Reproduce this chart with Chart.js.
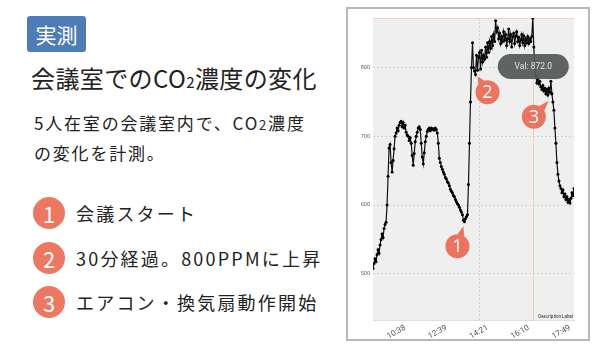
<!DOCTYPE html>
<html><head><meta charset="utf-8">
<script src="https://cdn.jsdelivr.net/npm/chart.js@4"></script>
<style>
html,body{margin:0;padding:0;background:#fff;width:600px;height:351px;overflow:hidden;font-family:'Noto Sans CJK JP',sans-serif;color:#222}
.abs{position:absolute;white-space:nowrap}
#badge{left:27px;top:16px;width:59px;height:36px;background:#4d7cb7;border-radius:3px;color:#fff;font-size:21px;line-height:36px;text-align:center}
#title{left:31px;top:62px;font-size:24px;line-height:32px;letter-spacing:0.4px}
.sub{font-size:15px}
#body{left:34px;top:109px;font-size:17px;line-height:28px;letter-spacing:1.8px}
.item{left:76px;font-size:18px;line-height:24px;letter-spacing:2.2px}
.num{position:absolute;width:32px;height:32px;border-radius:50%;background:#ec7862;color:#fff;font-size:22px;line-height:32px;text-align:center;left:33px}
#frame{position:absolute;left:346px;top:7px;width:244px;height:334px;border:2px solid #b8b8b8;box-sizing:border-box;background:#fff}
#frame canvas{display:block}
</style>
</head>
<body>
<div id="badge" class="abs">実測</div>
<div id="title" class="abs">会議室でのCO<span class="sub">2</span>濃度の変化</div>
<div id="body" class="abs">5人在室の会議室内で、CO<span style="font-size:13px">2</span>濃度<br>の変化を計測。</div>
<div class="num" style="top:197px">1</div>
<div class="abs item" style="top:201px">会議スタート</div>
<div class="num" style="top:242px">2</div>
<div class="abs item" style="top:246px">30分経過。800PPMに上昇</div>
<div class="num" style="top:286px">3</div>
<div class="abs item" style="top:290px">エアコン・換気扇動作開始</div>
<div id="frame"><canvas id="c" width="240" height="330"></canvas></div>
<script>
const timeLabels = ['10:38','12:39','14:21','16:10','17:49'];
const tickIdx = [24,65,106,147,188];
const yTickVals = [500,600,700,800];
const co2 = [
508,515,522,518,528,535,530,542,550,558,553,566,572,575,600,642,683,688,662,648,
665,682,700,705,712,708,716,720,722,714,720,712,716,706,702,700,694,698,690,672,
658,675,692,700,706,712,714,710,690,670,660,676,692,700,707,710,712,708,712,710,
711,709,712,710,705,690,668,662,656,652,648,645,640,638,634,632,628,623,620,618,
614,612,608,605,602,600,597,593,590,586,578,576,580,583,586,630,690,750,800,836,
800,795,790,818,796,815,822,798,825,808,818,812,830,815,836,822,838,828,845,832,
848,838,868,852,858,842,850,835,845,838,852,840,848,832,842,856,838,848,830,845,
850,835,846,852,838,844,832,840,848,836,846,832,842,836,845,835,842,838,845,872,
830,800,788,778,784,776,780,772,768,774,766,770,762,768,760,770,764,780,762,750,
738,712,690,662,645,635,628,624,618,622,612,616,608,612,604,608,603,610,618,614,
624];
const highlightIdx = 159;
const markers = [
  {label:'1', idx:90,  dx:-6,  dy:26,   tx:6,   ty:-20},
  {label:'2', idx:104, dx:10,  dy:22,   tx:-10, ty:-16},
  {label:'3', idx:175, dx:-15, dy:28.5, tx:15,  ty:-16}
];

const bgPlugin = {
  id:'bg',
  beforeDraw(chart){
    const {ctx, chartArea:a} = chart;
    ctx.save(); ctx.fillStyle='#efefef';
    ctx.fillRect(a.left,a.top,a.right-a.left,a.bottom-a.top); ctx.restore();
  },
  beforeDatasetsDraw(chart){
    const {ctx, chartArea:a, scales} = chart;
    const px = scales.x.getPixelForValue(highlightIdx);
    const py = scales.y.getPixelForValue(co2[highlightIdx]);
    ctx.save(); ctx.strokeStyle='#f3cfb8'; ctx.lineWidth=1;
    ctx.beginPath();
    ctx.moveTo(Math.round(px)+0.5,a.top); ctx.lineTo(Math.round(px)+0.5,a.bottom);
    ctx.moveTo(a.left,Math.round(py)+0.5); ctx.lineTo(a.right,Math.round(py)+0.5);
    ctx.stroke(); ctx.restore();
  },
  afterDraw(chart){
    const {ctx, chartArea:a, scales} = chart;
    ctx.save();
    ctx.fillStyle='#333'; ctx.font='4.5px Roboto'; ctx.textAlign='right'; ctx.textBaseline='bottom';
    ctx.fillText('Description Label', a.right-1, a.bottom-1);
    const hx = scales.x.getPixelForValue(highlightIdx);
    const hy = scales.y.getPixelForValue(co2[highlightIdx]);
    const cx = hx+0.5, cy = hy+48.5, w=71, h=25, r=12.5;
    ctx.fillStyle='rgba(82,87,87,0.92)';
    ctx.beginPath(); ctx.roundRect(cx-w/2, cy-h/2, w, h, r); ctx.fill();
    ctx.fillStyle='#e2e2e2'; ctx.font='8.5px Roboto'; ctx.textAlign='center'; ctx.textBaseline='middle';
    ctx.fillText('Val: '+co2[highlightIdx].toFixed(1), cx, cy+0.5);
    for (const m of markers){
      const px = scales.x.getPixelForValue(m.idx), py = scales.y.getPixelForValue(co2[m.idx]);
      const mx = px+m.dx, my = py+m.dy, tx = mx+m.tx, ty = my+m.ty, rr=12;
      const ang = Math.atan2(ty-my, tx-mx), s=0.3;
      ctx.fillStyle='#ea745f';
      ctx.beginPath();
      ctx.moveTo(mx+rr*Math.cos(ang-s), my+rr*Math.sin(ang-s));
      ctx.lineTo(tx,ty);
      ctx.lineTo(mx+rr*Math.cos(ang+s), my+rr*Math.sin(ang+s));
      ctx.closePath(); ctx.fill();
      ctx.beginPath(); ctx.arc(mx,my,rr,0,Math.PI*2); ctx.fill();
      ctx.fillStyle='#fff'; ctx.font='18px "Open Sans"'; ctx.textAlign='center'; ctx.textBaseline='middle';
      ctx.fillText(m.label, mx, my+1);
    }
    ctx.restore();
  }
};

new Chart(document.getElementById('c'), {
  type:'line',
  data:{ datasets:[{
    data: co2.map((v,i)=>({x:i,y:v})),
    borderColor:'#111', borderWidth:1.2, tension:0,
    pointRadius:1.5, pointBackgroundColor:'#000', pointBorderWidth:0
  }]},
  options:{
    responsive:false, animation:false, devicePixelRatio:1,
    layout:{padding:{top:9,right:14,left:0,bottom:0}},
    plugins:{legend:{display:false}, tooltip:{enabled:false}},
    scales:{
      x:{
        type:'linear', min:0, max:co2.length-1,
        afterBuildTicks(s){ s.ticks = tickIdx.map(v=>({value:v})); },
        afterFit(s){ s.height = 19; },
        ticks:{ callback:(v,i)=>timeLabels[i], minRotation:30, maxRotation:30,
          font:{size:8, family:'Roboto'}, color:'#555', padding:3, labelOffset:8, autoSkip:false },
        grid:{ drawTicks:false, lineWidth:1,
          color:(c)=> (c.tick && c.tick.value===tickIdx[2]) ? '#d0d0d0' : 'rgba(0,0,0,0)' },
        border:{ display:true, color:'#e6ddd4', dash:[2,2] }
      },
      y:{
        min:433, max:872,
        afterBuildTicks(s){ s.ticks = yTickVals.map(v=>({value:v})); },
        afterFit(s){ s.width = 25; },
        ticks:{ font:{size:5.5, family:'Roboto'}, color:'#666', padding:3 },
        grid:{ drawTicks:false, color:'#d2d2d2', lineWidth:1 },
        border:{ display:false, dash:[2,2] }
      }
    }
  },
  plugins:[bgPlugin]
});
</script>
</body></html>
